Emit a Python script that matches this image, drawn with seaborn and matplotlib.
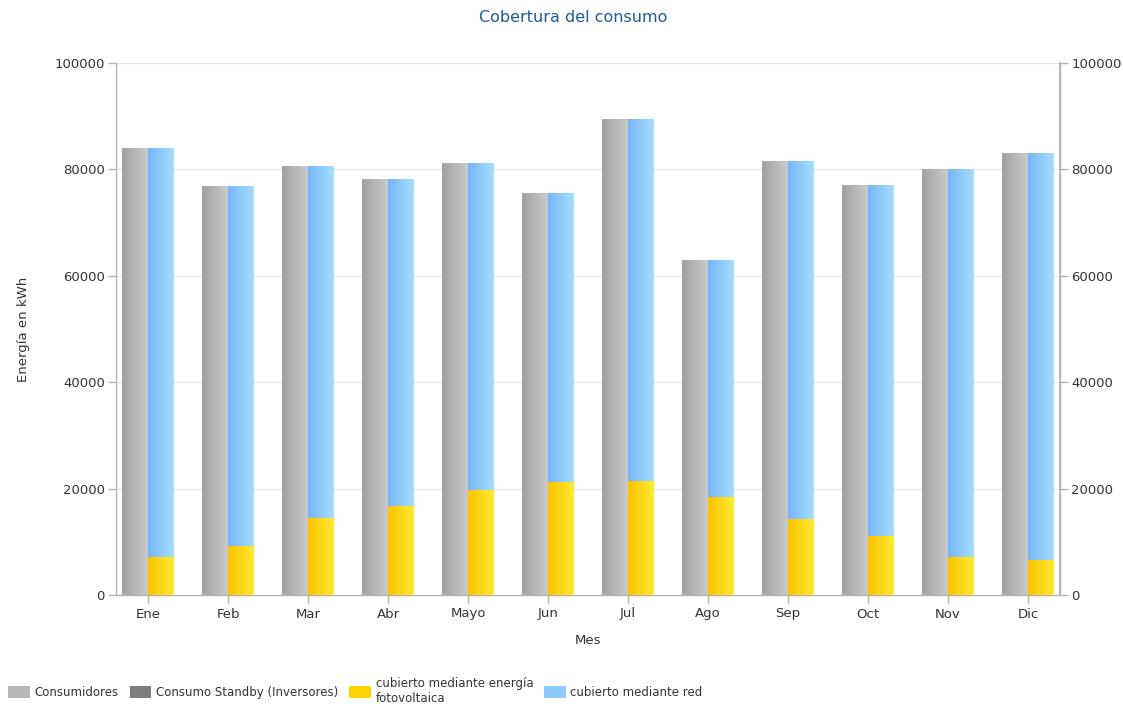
import numpy as np
import pandas as pd
import matplotlib
matplotlib.use("Agg")
import matplotlib.pyplot as plt
from matplotlib.colors import LinearSegmentedColormap
from matplotlib.patches import Patch
import seaborn as sns

# Monthly energy balance (kWh)
meses = ["Ene", "Feb", "Mar", "Abr", "Mayo", "Jun", "Jul", "Ago", "Sep", "Oct", "Nov", "Dic"]
consumidores = [84000, 76900, 80600, 78200, 81200, 75600, 89500, 63000, 81600, 77100, 80100, 83100]
fotovoltaica = [7200, 9200, 14500, 16800, 19700, 21200, 21400, 18400, 14300, 11000, 7200, 6500]
# grid share = consumption minus PV share; stacked above the PV share
red = [c - f for c, f in zip(consumidores, fotovoltaica)]

lbl_cons = "Consumidores"
lbl_standby = "Consumo Standby (Inversores)"
lbl_pv = "cubierto mediante energía\nfotovoltaica"
lbl_red = "cubierto mediante red"

yticks = [0, 20000, 40000, 60000, 80000, 100000]

sns.set_theme(style="white")
plt.rcParams["font.family"] = ["DejaVu Sans"]
text_col = "#333333"
axis_col = "#b4b4b4"

fig = plt.figure(figsize=(11.23, 7.13), dpi=100)
ax = fig.add_axes([116 / 1123, 1 - 595 / 713, (1060 - 116) / 1123, (595 - 63) / 713])

# totals: gray consumption bar next to a full-height blue bar (red + pv)
df_tot = pd.DataFrame({
    "Mes": meses * 2,
    "kWh": consumidores + [r + f for r, f in zip(red, fotovoltaica)],
    "Serie": [lbl_cons] * 12 + [lbl_red] * 12,
})
df_pv = pd.DataFrame({"Mes": meses, "kWh": fotovoltaica, "Serie": [lbl_red] * 12})

pal = {lbl_cons: "#b5b5b5", lbl_red: "#8ccaff"}
sns.barplot(data=df_tot, x="Mes", y="kWh", hue="Serie", hue_order=[lbl_cons, lbl_red],
            palette=pal, width=0.65, dodge=True, saturation=1, legend=False, ax=ax,
            errorbar=None, edgecolor="none")
n_tot = len(ax.patches)
sns.barplot(data=df_pv, x="Mes", y="kWh", hue="Serie", hue_order=[lbl_cons, lbl_red],
            palette=pal, width=0.65, dodge=True, saturation=1, legend=False, ax=ax,
            errorbar=None, edgecolor="none")

# horizontal gradients for each bar family
grad_gray = LinearSegmentedColormap.from_list("g", ["#a2a2a2", "#cacaca"])
grad_blue = LinearSegmentedColormap.from_list("b", ["#76b6f6", "#a6deff"])
grad_yell = LinearSegmentedColormap.from_list("y", ["#fdc200", "#ffea30"])
ramp = np.linspace(0, 1, 64).reshape(1, -1)

patches = list(ax.patches)
for i, p in enumerate(patches):
    x, y = p.get_x(), p.get_y()
    w, h = p.get_width(), p.get_height()
    if i >= n_tot:
        cmap, z = grad_yell, 3
    elif i < 12:
        cmap, z = grad_gray, 2
    else:
        cmap, z = grad_blue, 2
    p.set_facecolor("none")
    im = ax.imshow(ramp, cmap=cmap, extent=[x, x + w, y, y + h], aspect="auto",
                   origin="lower", zorder=z, interpolation="bicubic")
    im.set_clip_path(p)

ax.set_xlim(-0.4, 11.4)
ax.set_ylim(0, 100000)
ax.set_yticks(yticks)
ax.set_yticklabels([str(v) for v in yticks])
ax.grid(axis="y", color="#e6e6e6", linewidth=0.9, zorder=0)
ax.set_axisbelow(True)

ax.spines["top"].set_visible(False)
for s in ["left", "right", "bottom"]:
    ax.spines[s].set_color(axis_col)
    ax.spines[s].set_linewidth(1.0)

ax.tick_params(axis="y", left=True, direction="out", length=6, width=1, color=axis_col,
               labelsize=9.5, labelcolor=text_col, pad=2)
ax.tick_params(axis="x", bottom=True, direction="out", length=6, width=1, color=axis_col,
               labelsize=9.5, labelcolor=text_col, pad=3)

ax.set_xlabel("Mes", fontsize=9.5, color=text_col, labelpad=10)
ax.set_ylabel("Energía en kWh", fontsize=9.5, color=text_col, labelpad=18)

ax2 = ax.twinx()
ax2.set_ylim(ax.get_ylim())
ax2.set_yticks(yticks)
ax2.set_yticklabels([str(v) for v in yticks])
ax2.tick_params(axis="y", right=True, direction="out", length=6, width=1, color=axis_col,
                labelsize=9.5, labelcolor=text_col, pad=2)
for s in ["top", "left", "bottom"]:
    ax2.spines[s].set_visible(False)
ax2.spines["right"].set_color(axis_col)
ax2.grid(False)

fig.text(573 / 1123, 1 - 17 / 713, "Cobertura del consumo", ha="center", va="center",
         fontsize=11.5, color="#1f5a99")

handles = [
    Patch(facecolor="#b8b8b8", edgecolor="none", label=lbl_cons),
    Patch(facecolor="#7e7e7e", edgecolor="none", label=lbl_standby),
    Patch(facecolor="#ffd200", edgecolor="none", label=lbl_pv),
    Patch(facecolor="#8ccaff", edgecolor="none", label=lbl_red),
]
fig.legend(handles=handles, loc="lower left", bbox_to_anchor=(0.0, 0.0), ncol=4,
           frameon=False, fontsize=8.5, labelcolor=text_col, handlelength=1.85,
           handleheight=1.2, handletextpad=0.4, columnspacing=0.9, borderaxespad=0.3)

fig.savefig("out.png", dpi=100, facecolor="white")
